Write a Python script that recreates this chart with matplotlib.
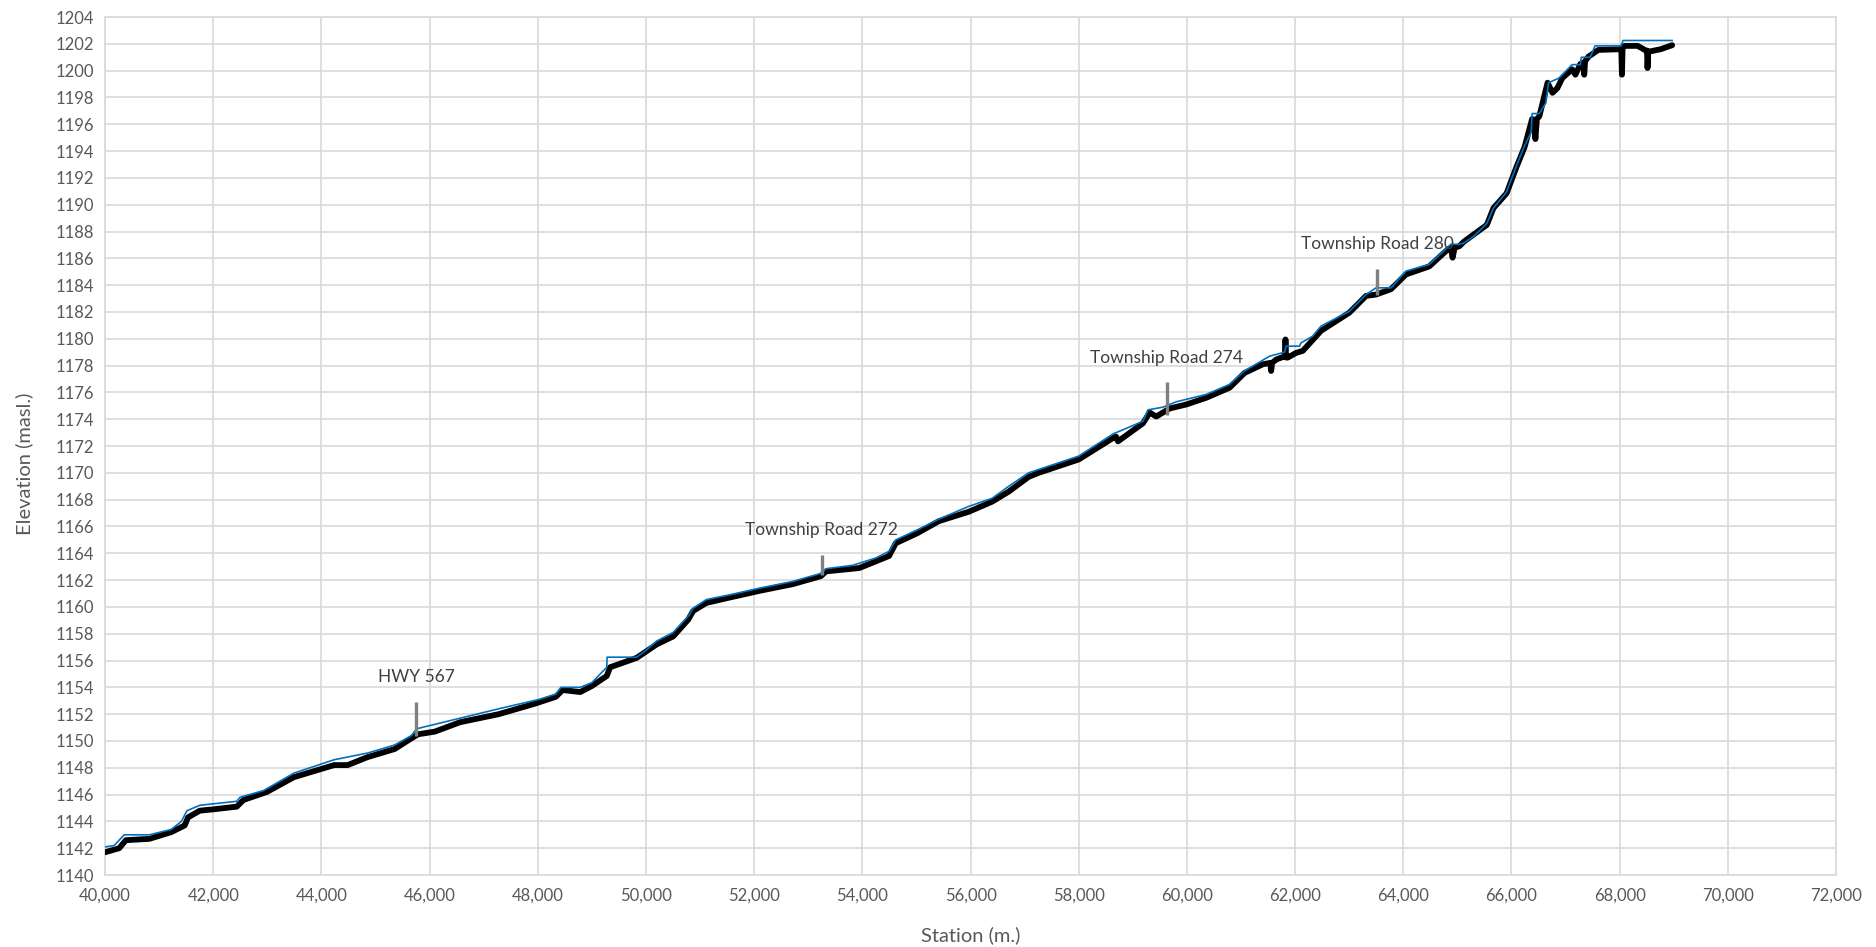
import matplotlib
matplotlib.use("Agg")
import matplotlib.pyplot as plt
from matplotlib.ticker import FuncFormatter

# ---- data ----
ground_station = [40000, 40261, 40385, 40820, 41223, 41472, 41534, 41751, 42000, 42434,
                  42559, 42993, 43490, 44235, 44484, 44856, 45353, 45664, 45788, 46098,
                  46564, 47278, 47961, 48334, 48458, 48784, 48999, 49275, 49337, 49828,
                  50196, 50503, 50780, 50872, 51117, 51547, 52100, 52714, 53236, 53328,
                  53942, 54249, 54494, 54617, 55016, 55415, 55968, 56398, 56705, 57073,
                  57257, 58000, 58634, 58690, 58726, 59188, 59311, 59434, 59680, 59988, 60357,
                  60788, 61065, 61403, 61540, 61557, 61575, 61649, 61812, 61822, 61832, 61865,
                  62019, 62142, 62480, 63003, 63311, 63495, 63772, 64049, 64480, 64818, 64880,
                  64911, 64950, 65034, 65121, 65545, 65667, 65909, 66091, 66242, 66382, 66420,
                  66442, 66470, 66515, 66667, 66758, 66848, 66939, 67121, 67182, 67273, 67330,
                  67345, 67360, 67424, 67606, 68030, 68042, 68055, 68091, 68333, 68485, 68505,
                  68515, 68530, 68576, 68758, 68970]
ground_elev = [1141.7, 1142.0, 1142.6, 1142.7, 1143.2, 1143.7, 1144.3, 1144.8, 1144.9, 1145.1,
               1145.6, 1146.2, 1147.3, 1148.2, 1148.2, 1148.8, 1149.4, 1150.2, 1150.5, 1150.7,
               1151.4, 1152.0, 1152.8, 1153.3, 1153.8, 1153.65, 1154.1, 1154.85, 1155.5, 1156.2,
               1157.2, 1157.8, 1159.05, 1159.7, 1160.3, 1160.7, 1161.2, 1161.7, 1162.3, 1162.65,
               1162.9, 1163.4, 1163.8, 1164.75, 1165.5, 1166.4, 1167.1, 1167.85, 1168.6, 1169.7,
               1170.0, 1171.0, 1172.6, 1172.7, 1172.35, 1173.7, 1174.5, 1174.2, 1174.8, 1175.1, 1175.6,
               1176.35, 1177.45, 1178.1, 1178.2, 1177.6, 1178.2, 1178.45, 1178.7, 1179.95, 1178.6, 1178.6,
               1178.95, 1179.1, 1180.6, 1181.95, 1183.2, 1183.3, 1183.7, 1184.8, 1185.4, 1186.65, 1186.8,
               1186.05, 1186.8, 1186.9, 1187.25, 1188.5, 1189.75, 1190.85, 1192.8, 1194.3, 1196.4, 1196.3,
               1194.9, 1196.4, 1196.6, 1199.1, 1198.35, 1198.7, 1199.45, 1200.1, 1199.7, 1200.5, 1200.6,
               1199.7, 1200.7, 1201.05, 1201.55, 1201.6, 1199.7, 1201.8, 1201.85, 1201.85, 1201.5, 1201.5,
               1200.2, 1201.4, 1201.45, 1201.6, 1201.9]

design_station = [40000, 40168, 40354, 40820, 41223, 41410, 41515, 41751, 42434, 42496,
                  42931, 43490, 44235, 44856, 45353, 45664, 45757, 45850, 46564, 47278,
                  48023, 48334, 48427, 48784, 48999, 49275, 49280, 49828, 50012, 50196,
                  50503, 50780, 50872, 51117, 51547, 52100, 52714, 53236, 53328, 53819,
                  54249, 54495, 54617, 55016, 55415, 55968, 56398, 56705, 57073, 58000,
                  58634, 59188, 59280, 59557, 59803, 60357, 60788, 61065, 61526, 61803,
                  61834, 62080, 62111, 62326, 62480, 63003, 63311, 63495, 63772, 64049,
                  64480, 64880, 65034, 65121, 65303, 65545, 65667, 65909, 66091, 66242,
                  66364, 66382, 66515, 66636, 66685, 66879, 67000, 67121, 67273, 67291,
                  67455, 67545, 68030, 68061, 68970]
design_elev = [1142.1, 1142.2, 1143.0, 1143.0, 1143.4, 1144.0, 1144.8, 1145.2, 1145.5, 1145.8,
               1146.3, 1147.6, 1148.6, 1149.1, 1149.7, 1150.4, 1150.9, 1151.0, 1151.7, 1152.4,
               1153.1, 1153.5, 1154.0, 1154.0, 1154.35, 1155.5, 1156.25, 1156.25, 1156.8, 1157.45,
               1158.1, 1159.3, 1159.9, 1160.55, 1160.9, 1161.4, 1161.9, 1162.5, 1162.85, 1163.1,
               1163.65, 1164.15, 1165.0, 1165.75, 1166.55, 1167.5, 1168.1, 1169.0, 1170.0, 1171.25,
               1172.9, 1173.85, 1174.7, 1174.9, 1175.3, 1175.85, 1176.6, 1177.6, 1178.7, 1179.0,
               1179.45, 1179.45, 1179.7, 1180.2, 1180.95, 1182.05, 1183.3, 1183.8, 1183.8, 1185.05,
               1185.55, 1187.05, 1187.05, 1187.15, 1187.65, 1188.6, 1189.75, 1190.95, 1192.9, 1194.4,
               1195.4, 1196.8, 1196.8, 1197.6, 1199.1, 1199.45, 1199.95, 1200.45, 1200.45, 1201.0,
               1201.0, 1201.85, 1201.85, 1202.25, 1202.25]

road_names = ["HWY 567", "Township Road 272", "Township Road 274", "Township Road 280"]
road_station = [45757, 53248, 59631, 63514]
road_bottom = [1150.4, 1162.4, 1174.35, 1183.3]
road_top = [1152.9, 1163.9, 1176.75, 1185.2]

x_ticks = list(range(40000, 72001, 2000))
y_ticks = list(range(1140, 1205, 2))

# ---- figure ----
FONT = ["Lato", "DejaVu Sans"]
plt.rcParams["font.family"] = FONT
GRAY_TXT = "#595959"
GRID = "#D9D9D9"

fig = plt.figure(figsize=(18.76, 9.47), dpi=100)
ax = fig.add_axes([0.056, 0.076, 0.9227, 0.906])

ax.plot(ground_station, ground_elev, color="black", lw=4.2,
        solid_joinstyle="round", solid_capstyle="round", zorder=3)
ax.plot(design_station, design_elev, color="#0070C0", lw=1.2, zorder=4)

for name, s, b, t in zip(road_names, road_station, road_bottom, road_top):
    ax.plot([s, s], [b, t], color="#7F7F7F", lw=2.4, zorder=5, solid_capstyle="butt")
    ax.text(s, t + 1.85, name, ha="center", va="center", fontsize=12.5,
            color="#404040", zorder=6)

ax.set_xlim(40000, 72000)
ax.set_ylim(1140, 1204)
ax.set_xticks(x_ticks)
ax.set_yticks(y_ticks)
ax.xaxis.set_major_formatter(FuncFormatter(lambda v, p: f"{int(v):,}"))
ax.yaxis.set_major_formatter(FuncFormatter(lambda v, p: f"{int(v)}"))
ax.tick_params(axis="both", length=0, labelsize=12, labelcolor=GRAY_TXT)
ax.tick_params(axis="x", pad=9)
ax.tick_params(axis="y", pad=8)
ax.grid(True, color=GRID, lw=1.2, zorder=0)
ax.set_axisbelow(True)
for sp in ax.spines.values():
    sp.set_color(GRID)
    sp.set_linewidth(1.2)

ax.set_xlabel("Station (m.)", fontsize=14.5, color=GRAY_TXT, labelpad=16)
ax.set_ylabel("Elevation (masl.)", fontsize=14.5, color=GRAY_TXT)
ax.yaxis.set_label_coords(-0.0416, 0.479)

fig.savefig("out.png", dpi=100, facecolor="white")
